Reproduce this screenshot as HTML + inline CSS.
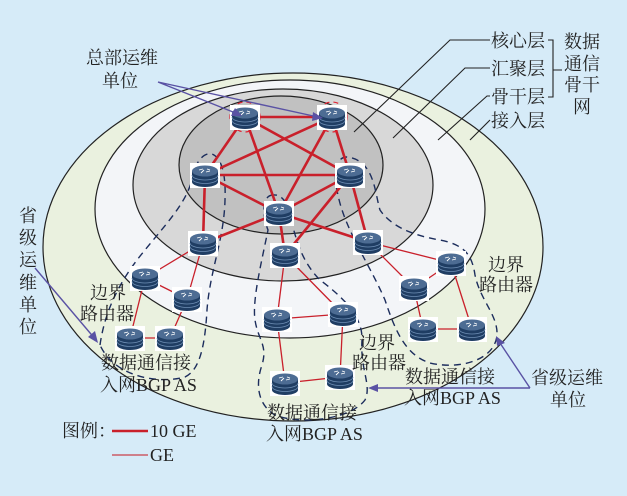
<!DOCTYPE html>
<html><head><meta charset="utf-8"><style>
html,body{margin:0;padding:0;background:#d6ebf8;}
svg{display:block}
text{font-family:"Liberation Serif","Noto Serif CJK SC","Noto Sans CJK SC",serif;fill:#222;}
</style></head><body>
<svg width="627" height="496" viewBox="0 0 627 496" xmlns="http://www.w3.org/2000/svg">
<defs>
<g id="r">
<rect x="-15" y="-12" width="30" height="25" fill="#fff"/>
<path d="M-13,-4 L-13,7 A13,5 0 0 0 13,7 L13,-4 Z" fill="#1f3d63"/>
<path d="M-13,0 A13,5 0 0 0 13,0 M-13,3.5 A13,5 0 0 0 13,3.5" stroke="#6f8fb5" stroke-width="0.8" fill="none"/>
<ellipse cx="0" cy="-4" rx="13" ry="5.5" fill="#4d6c93"/>
<path d="M-6,-5 l4,-1 M1,-3 l4,-1 M-4,-2 l3,-3 M2,-6 l3,1" stroke="#fff" stroke-width="0.9"/>
</g>
</defs>
<rect width="627" height="496" fill="#d6ebf8"/>
<ellipse cx="293" cy="247" rx="250" ry="174" fill="#eaf1df" stroke="#222" stroke-width="1.2"/>
<ellipse cx="290" cy="209" rx="195" ry="129" fill="#f3f5f8" stroke="#222" stroke-width="1.2"/>
<ellipse cx="283" cy="185" rx="150" ry="96" fill="#d8d8d8" stroke="#222" stroke-width="1.2"/>
<ellipse cx="281" cy="165" rx="102" ry="69" fill="#c1c1c1" stroke="#222" stroke-width="1.2"/>

<g stroke="#222" stroke-width="1.1" fill="none">
<path d="M490,40 L450,40 L354,132"/>
<path d="M490,68 L465,68 L393,138"/>
<path d="M490,96 L487,96 L438,140"/>
<path d="M490,120 L470,140"/>
<path d="M548,40 L553,40 L553,97 L548,97 M553,70 L562,70"/>
</g>

<g stroke="#1c2d5c" stroke-width="1.4" fill="none" stroke-dasharray="7,5">
<path d="M100,345 C105,310 120,280 145,250 C165,225 185,205 192,180 C195,160 205,152 212,154 C222,158 226,175 225,200 C224,240 210,270 207,310 C205,345 200,370 185,377 C160,384 115,378 100,345 Z"/>
<path d="M273,195 C262,195 262,215 268,230 C262,260 252,300 255,320 C258,340 268,345 262,365 C255,385 258,405 275,415 C300,425 350,420 365,400 C372,385 360,370 362,340 C363,315 340,295 320,280 C300,260 295,235 290,215 C287,200 280,194 273,195 Z"/>
<path d="M347,157 C335,157 333,175 338,195 C345,230 370,265 385,300 C395,330 405,355 430,363 C460,370 495,360 497,335 C498,315 480,300 475,275 C472,255 465,245 440,240 C410,235 390,225 380,210 C375,195 375,160 347,157 Z"/>
</g>

<g stroke="#c9202b" stroke-width="2.6" fill="none">
<path d="M245,117 L332,117 M245,117 L205,175 M245,117 L350,175 M245,117 L279,213 M332,117 L205,175 M332,117 L350,175 M332,117 L279,213 M205,175 L350,175 M205,175 L279,213 M350,175 L279,213 M205,175 L203,243 M279,213 L203,243 M279,213 L285,255 M350,175 L285,255 M279,213 L368,242 M350,175 L368,242"/>
</g>
<g stroke="#c9202b" stroke-width="1.3" fill="none">
<path d="M203,243 L145,278 M203,243 L187,299 M145,278 L187,299 M145,278 L130,338 M187,299 L170,338 M130,338 L170,338"/>
<path d="M285,255 L277,319 M285,255 L343,314 M277,319 L343,314 M277,319 L285,383 M343,314 L340,377 M285,383 L340,377"/>
<path d="M368,242 L451,263 M368,242 L414,288 M414,288 L451,263 M414,288 L423,329 M451,263 L472,329 M423,329 L472,329"/>
</g>
<g stroke="#e02030" stroke-width="1.2" fill="none" stroke-dasharray="5,4">
<circle cx="245" cy="117" r="15"/><circle cx="332" cy="117" r="15"/>
</g>

<use href="#r" x="245" y="117"/><use href="#r" x="332" y="117"/>
<use href="#r" x="205" y="175"/><use href="#r" x="350" y="175"/>
<use href="#r" x="279" y="213"/>
<use href="#r" x="203" y="243"/><use href="#r" x="285" y="255"/><use href="#r" x="368" y="242"/>
<use href="#r" x="145" y="278"/><use href="#r" x="187" y="299"/>
<use href="#r" x="277" y="319"/><use href="#r" x="343" y="314"/>
<use href="#r" x="414" y="288"/><use href="#r" x="451" y="263"/>
<use href="#r" x="130" y="338"/><use href="#r" x="170" y="338"/>
<use href="#r" x="285" y="383"/><use href="#r" x="340" y="377"/>
<use href="#r" x="423" y="329"/><use href="#r" x="472" y="329"/>

<g stroke="#5a52a4" stroke-width="1.4" fill="none">
<path d="M158,82 L238,114 M158,82 L318,117"/>
<path d="M35,268 L96,340"/>
<path d="M530,388 L498,340 M530,388 L374,388"/>
</g>
<g fill="#5a52a4">
<polygon points="242,116 231,116 235,108"/>
<polygon points="323,118 312,121 313,112"/>
<polygon points="98,343 88,337 95,331"/>
<polygon points="496,336 505,343 497,346"/>
<polygon points="368,388 378,384 378,392"/>
</g>

<g font-size="18">
<text x="86" y="64">总部运维</text>
<text x="102" y="87">单位</text>
<text x="491" y="47">核心层</text>
<text x="491" y="75">汇聚层</text>
<text x="491" y="103">骨干层</text>
<text x="491" y="127">接入层</text>
<text x="564" y="48">数据</text>
<text x="564" y="70">通信</text>
<text x="564" y="91">骨干</text>
<text x="573" y="113">网</text>
<text x="19" y="222">省</text><text x="19" y="244">级</text><text x="19" y="266">运</text>
<text x="19" y="289">维</text><text x="19" y="311">单</text><text x="19" y="333">位</text>
<text x="90" y="299">边界</text>
<text x="80" y="320">路由器</text>
<text x="101" y="369">数据通信接</text>
<text x="100" y="391">入网BGP AS</text>
<text x="267" y="419">数据通信接</text>
<text x="266" y="440">入网BGP AS</text>
<text x="405" y="383">数据通信接</text>
<text x="404" y="404">入网BGP AS</text>
<text x="359" y="349">边界</text>
<text x="352" y="369">路由器</text>
<text x="488" y="271">边界</text>
<text x="479" y="291">路由器</text>
<text x="531" y="384">省级运维</text>
<text x="550" y="406">单位</text>
<text x="62" y="437">图例：</text>
<text x="150" y="437">10 GE</text>
<text x="150" y="461">GE</text>
</g>
<line x1="112" y1="431" x2="148" y2="431" stroke="#c9202b" stroke-width="2.6"/>
<line x1="112" y1="455" x2="148" y2="455" stroke="#c9404a" stroke-width="1.3"/>
</svg>
</body></html>
